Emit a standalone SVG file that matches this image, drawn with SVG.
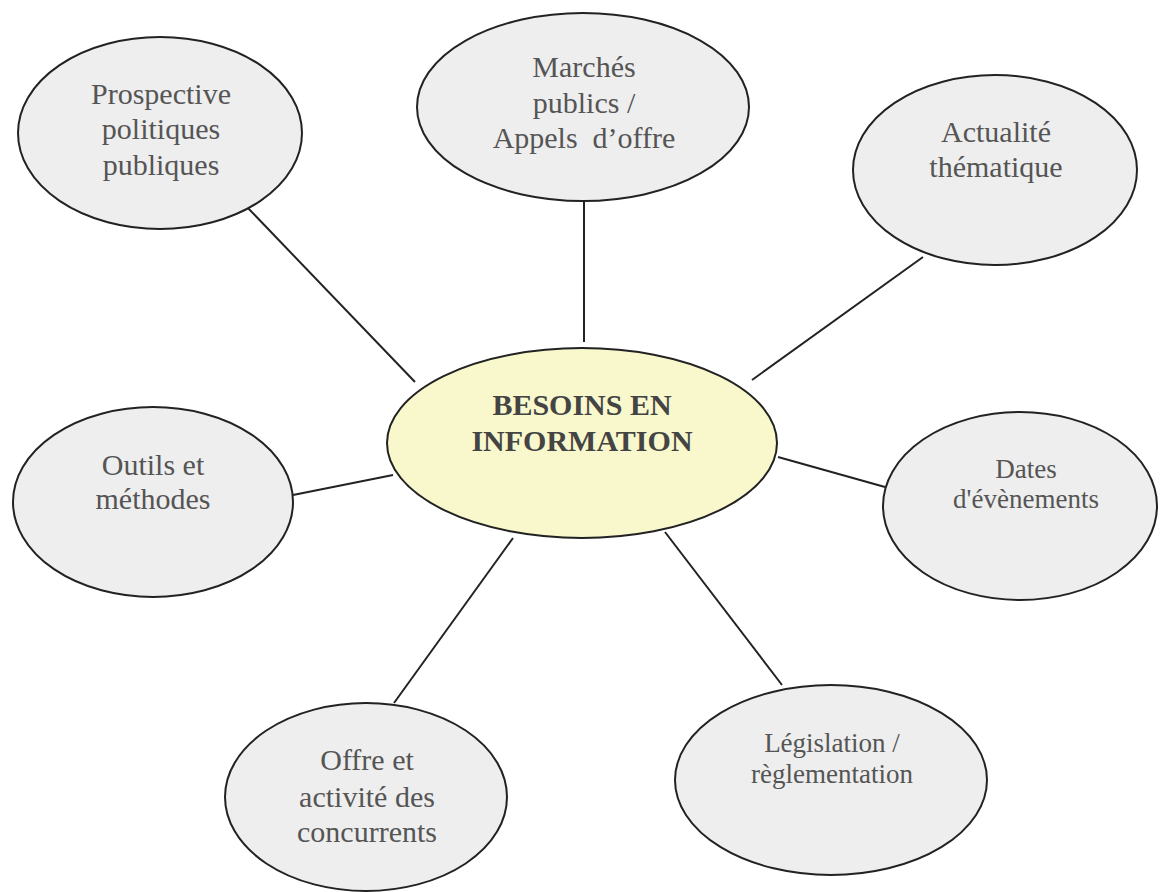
<svg xmlns="http://www.w3.org/2000/svg" width="1160" height="892" viewBox="0 0 1160 892">
<style>
.n{fill:#eeeeee;stroke:#222;stroke-width:2}
.c{fill:#f8f8cc;stroke:#222;stroke-width:2}
.t{font-family:"Liberation Serif","Times New Roman",serif;font-size:30px;fill:#555;text-anchor:middle}
.s{font-size:27px}
.b{font-weight:bold;fill:#444}
.e{stroke:#222;stroke-width:2;fill:none}
</style>
<rect width="1160" height="892" fill="#fff"/>
<g id="connectors" class="e">
<line x1="247" y1="207" x2="415" y2="382"/>
<line x1="584" y1="200" x2="584" y2="342"/>
<line x1="923" y1="257" x2="752" y2="380"/>
<line x1="293" y1="495" x2="393" y2="475"/>
<line x1="778" y1="457" x2="885" y2="487"/>
<line x1="513" y1="538" x2="394" y2="703"/>
<line x1="665" y1="532" x2="782" y2="685"/>
</g>
<g id="prospective">
<ellipse class="n" cx="160" cy="133" rx="142" ry="96"/>
<text class="t"><tspan x="161" y="104">Prospective</tspan><tspan x="161" y="139">politiques</tspan><tspan x="161" y="175">publiques</tspan></text>
</g>
<g id="marches">
<ellipse class="n" cx="583" cy="107" rx="166" ry="94"/>
<text class="t"><tspan x="584" y="77">Marchés</tspan><tspan x="584" y="113">publics /</tspan><tspan x="584" y="148">Appels&#160; d’offre</tspan></text>
</g>
<g id="actualite">
<ellipse class="n" cx="995" cy="170" rx="142" ry="95"/>
<text class="t"><tspan x="996" y="142">Actualité</tspan><tspan x="996" y="177">thématique</tspan></text>
</g>
<g id="centre">
<ellipse class="c" cx="582" cy="443" rx="195" ry="95"/>
<text class="t b"><tspan x="582" y="415">BESOINS EN</tspan><tspan x="582" y="451">INFORMATION</tspan></text>
</g>
<g id="outils">
<ellipse class="n" cx="153" cy="502" rx="140" ry="95"/>
<text class="t"><tspan x="153" y="475">Outils et</tspan><tspan x="153" y="509">méthodes</tspan></text>
</g>
<g id="dates">
<ellipse class="n" cx="1020" cy="506" rx="137" ry="94"/>
<text class="t s"><tspan x="1026" y="478">Dates</tspan><tspan x="1026" y="508">d'évènements</tspan></text>
</g>
<g id="offre">
<ellipse class="n" cx="366" cy="797" rx="141" ry="94"/>
<text class="t"><tspan x="367" y="770">Offre et</tspan><tspan x="367" y="807">activité des</tspan><tspan x="367" y="842">concurrents</tspan></text>
</g>
<g id="legislation">
<ellipse class="n" cx="831" cy="780" rx="156" ry="95"/>
<text class="t s"><tspan x="832" y="752">Législation /</tspan><tspan x="832" y="783">règlementation</tspan></text>
</g>
</svg>
